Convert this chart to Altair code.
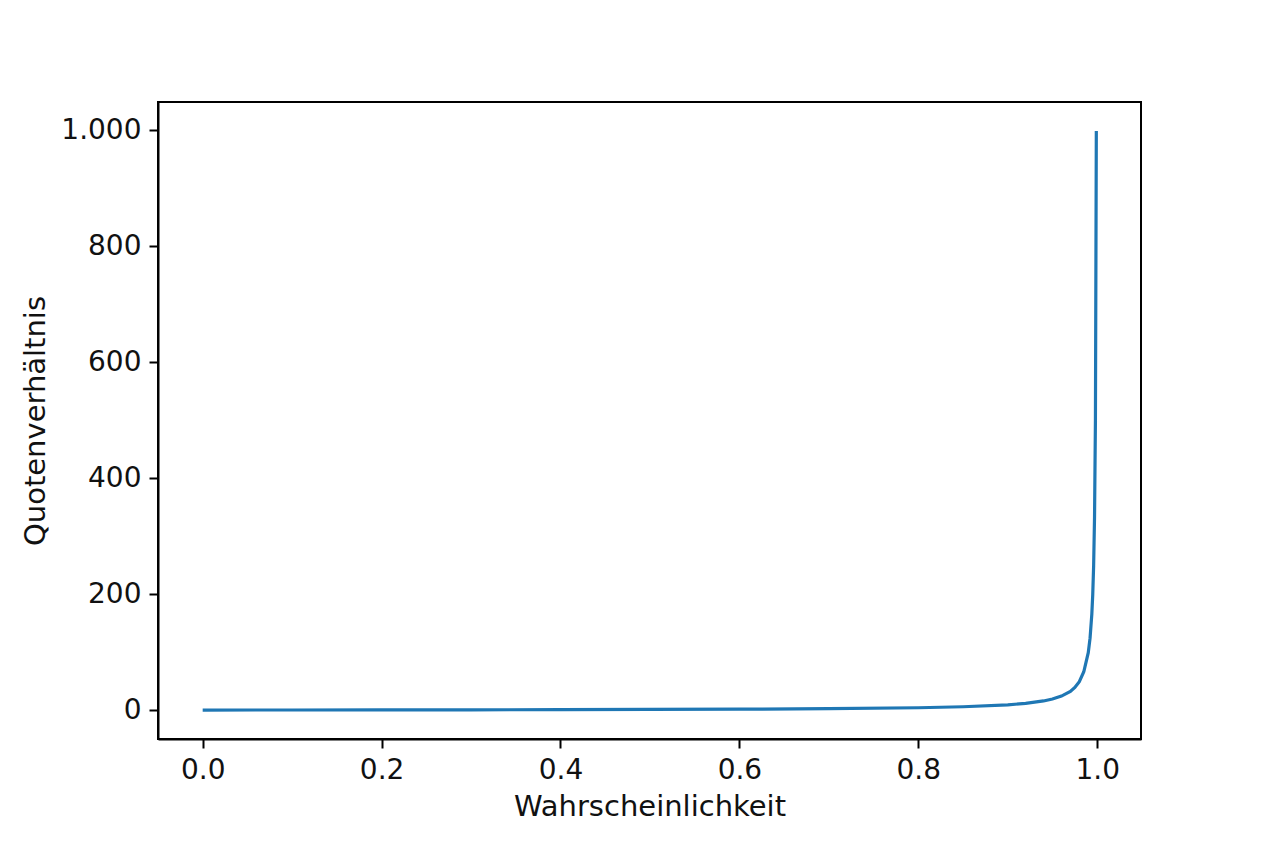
import altair as alt
import pandas as pd

# Values (probability -> odds)
prob = [0.0, 0.1, 0.2, 0.3, 0.4, 0.5, 0.6, 0.7, 0.8, 0.85, 0.9, 0.92, 0.94, 0.95,
        0.96, 0.97, 0.975, 0.98, 0.985, 0.99, 0.992, 0.994, 0.995, 0.996, 0.997,
        0.998, 0.999]
odds = [0.0, 0.11, 0.25, 0.43, 0.67, 1.0, 1.5, 2.3, 4.0, 5.7, 9.0, 11.5, 15.7, 19.0,
        24.0, 32.0, 39.0, 49.0, 66.0, 99.0, 124.0, 166.0, 199.0, 249.0, 332.0,
        499.0, 999.0]
x_ticks = [0.0, 0.2, 0.4, 0.6, 0.8, 1.0]
y_ticks = [0, 200, 400, 600, 800, 1000]

df = pd.DataFrame({"p": prob, "o": odds})

FONT = "DejaVu Sans"
LBL = 28
TTL = 29

chart = alt.Chart(df).mark_line(color="#1f77b4", strokeWidth=3.2).encode(
    x=alt.X("p:Q", scale=alt.Scale(domain=[-0.04995, 1.04895], nice=False, zero=False),
            axis=alt.Axis(title="Wahrscheinlichkeit", values=x_ticks, format=".1f",
                          grid=False, domainColor="black", domainWidth=2,
                          tickColor="black", tickWidth=2, tickSize=9, labelPadding=8,
                          labelFont=FONT, labelFontSize=LBL, labelColor="#111",
                          titleFont=FONT, titleFontSize=TTL, titleFontWeight="normal",
                          titleColor="#111", titlePadding=8)),
    y=alt.Y("o:Q", scale=alt.Scale(domain=[-49.95, 1048.9], nice=False, zero=False),
            axis=alt.Axis(title="Quotenverhältnis", values=y_ticks,
                          labelExpr="replace(format(datum.value, ','), ',', '.')",
                          grid=False, domainColor="black", domainWidth=2,
                          tickColor="black", tickWidth=2, tickSize=9, labelPadding=8,
                          labelFont=FONT, labelFontSize=LBL, labelColor="#111",
                          titleFont=FONT, titleFontSize=TTL, titleFontWeight="normal",
                          titleColor="#111", titlePadding=10)),
).properties(
    width=983, height=637,
    background="white",
    autosize=alt.AutoSizeParams(type="none"),
    padding={"left": 150, "top": 94, "right": 115, "bottom": 96},
).configure_view(
    stroke="black", strokeWidth=2
)

chart.save("out.html", embed_options={"renderer": "svg", "actions": False})
